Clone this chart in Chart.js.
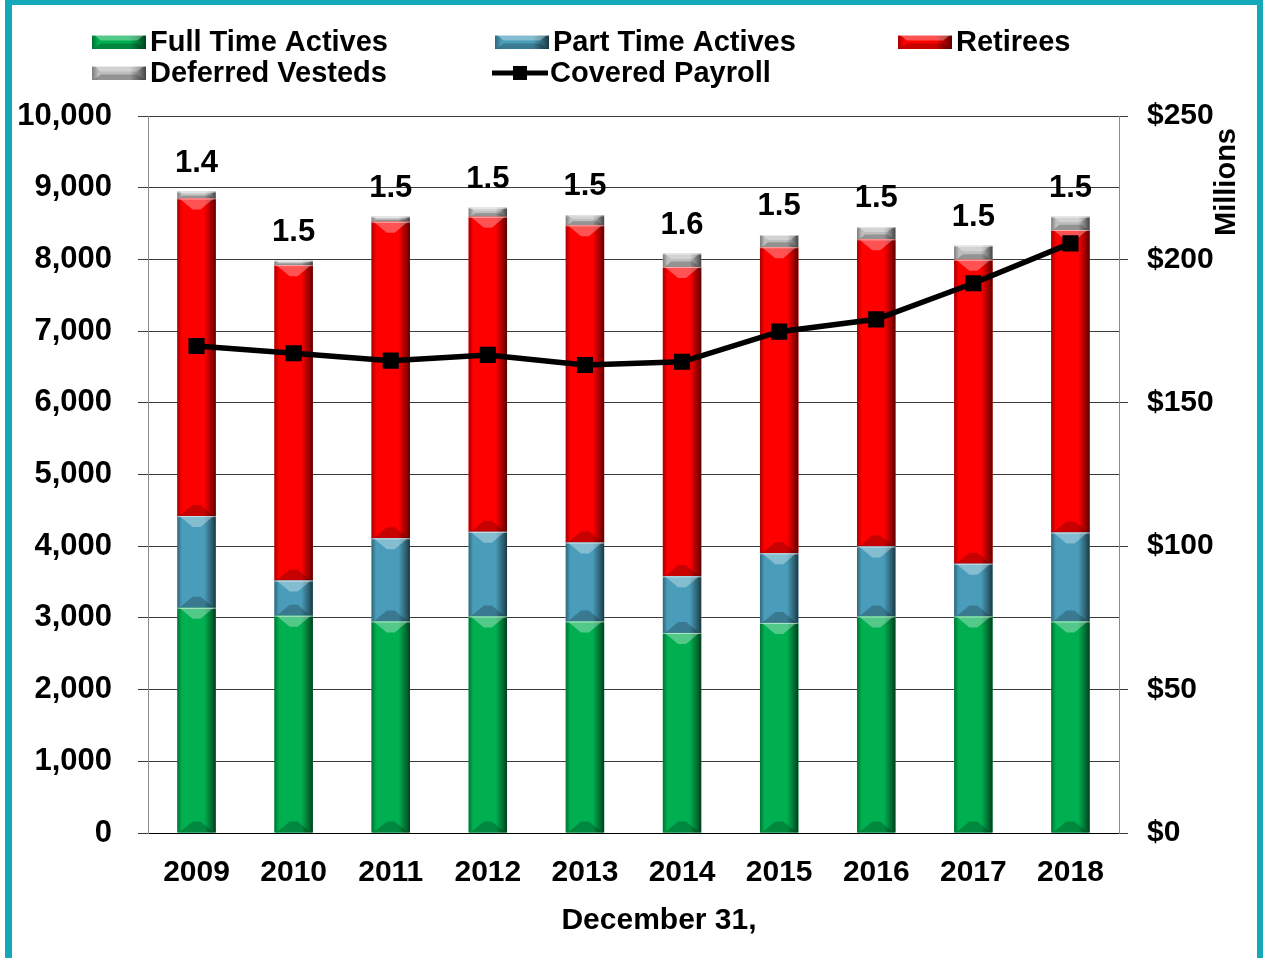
<!DOCTYPE html>
<html>
<head>
<meta charset="utf-8">
<script src="https://cdn.jsdelivr.net/npm/chart.js@4.4.1/dist/chart.umd.min.js"></script>
<style>
  html, body { margin: 0; padding: 0; background: #fff; }
  canvas { display: block; }
</style>
</head>
<body>
<canvas id="c" width="1263" height="958"></canvas>
<script>
// ---- data ----
const categories = ['2009', '2010', '2011', '2012', '2013', '2014', '2015', '2016', '2017', '2018'];
const fullTimeActives = [3140, 3030, 2950, 3020, 2950, 2790, 2930, 3020, 3020, 2950];
const partTimeActives = [1280, 490, 1160, 1180, 1100, 790, 970, 975, 735, 1240];
const retirees = [4430, 4400, 4415, 4395, 4425, 4315, 4270, 4285, 4240, 4220];
const deferredVesteds = [95, 60, 70, 125, 140, 185, 170, 170, 195, 185];
const coveredPayroll = [169.8, 167.3, 164.7, 166.7, 163.2, 164.3, 174.8, 179.1, 191.7, 205.6];
const ratioLabels = ['1.4', '1.5', '1.5', '1.5', '1.5', '1.6', '1.5', '1.5', '1.5', '1.5'];
const leftTicks = [0, 1000, 2000, 3000, 4000, 5000, 6000, 7000, 8000, 9000, 10000];
const rightTicks = [0, 50, 100, 150, 200, 250];
const xTitle = 'December 31,';
const rightTitle = 'Millions';

const FONT = '"Liberation Sans", Arial, sans-serif';
const TEAL = '#12A9B9';

function shade(hex, f) {
  const n = parseInt(hex.slice(1), 16);
  let r = (n >> 16) & 255, g = (n >> 8) & 255, b = n & 255;
  if (f < 0) { r *= (1 + f); g *= (1 + f); b *= (1 + f); }
  else { r += (255 - r) * f; g += (255 - g) * f; b += (255 - b) * f; }
  return 'rgb(' + Math.round(r) + ',' + Math.round(g) + ',' + Math.round(b) + ')';
}

// bevel drawing for a bar rectangle
function bevel(ctx, left, top, w, h, color) {
  ctx.save();
  const g = ctx.createLinearGradient(left, 0, left + w, 0);
  g.addColorStop(0, shade(color, -0.35));
  g.addColorStop(0.12, color);
  g.addColorStop(0.7, color);
  g.addColorStop(0.9, shade(color, -0.4));
  g.addColorStop(1, shade(color, -0.65));
  ctx.fillStyle = g;
  ctx.fillRect(left, top, w, h);
  const ch = Math.min(11, h / 2.5);
  if (ch > 1) {
    ctx.beginPath();
    ctx.moveTo(left + 2, top);
    ctx.lineTo(left + w - 2, top);
    ctx.lineTo(left + w - 2 - ch * 1.2, top + ch);
    ctx.lineTo(left + 2 + ch * 1.2, top + ch);
    ctx.closePath();
    ctx.fillStyle = 'rgba(255,255,255,0.32)';
    ctx.fill();
    ctx.beginPath();
    ctx.moveTo(left + 2, top + h);
    ctx.lineTo(left + w - 2, top + h);
    ctx.lineTo(left + w - 2 - ch * 1.2, top + h - ch);
    ctx.lineTo(left + 2 + ch * 1.2, top + h - ch);
    ctx.closePath();
    ctx.fillStyle = 'rgba(0,0,0,0.22)';
    ctx.fill();
  }
  ctx.fillStyle = 'rgba(255,255,255,0.55)';
  ctx.fillRect(left, top, w, 1);
  ctx.restore();
}

const framePlugin = {
  id: 'frame',
  beforeDraw(chart) {
    const ctx = chart.ctx;
    ctx.save();
    ctx.fillStyle = '#fff';
    ctx.fillRect(0, 0, chart.width, chart.height);
    ctx.fillStyle = TEAL;
    ctx.fillRect(5, 0, 7, 958);
    ctx.fillRect(5, 0, 1258, 5);
    ctx.fillRect(1257, 0, 6, 958);
    ctx.restore();
  }
};

const bevelPlugin = {
  id: 'bevel',
  afterDatasetDraw(chart, args) {
    const ds = chart.data.datasets[args.index];
    if (ds.type === 'line') return;
    const ctx = chart.ctx;
    args.meta.data.forEach(el => {
      const w = el.width;
      const top = Math.min(el.y, el.base);
      const h = Math.abs(el.base - el.y);
      bevel(ctx, el.x - w / 2, top, w, h, ds.backgroundColor);
    });
  }
};

const labelPlugin = {
  id: 'ratioLabels',
  afterDatasetsDraw(chart) {
    const ctx = chart.ctx;
    const meta = chart.getDatasetMeta(4);
    ctx.save();
    ctx.font = 'bold 31px ' + FONT;
    ctx.fillStyle = '#000';
    ctx.textAlign = 'center';
    ctx.textBaseline = 'alphabetic';
    meta.data.forEach((el, i) => {
      ctx.fillText(ratioLabels[i], el.x, el.y - 20);
    });
    ctx.restore();
  }
};

const legendPlugin = {
  id: 'customLegend',
  afterDraw(chart) {
    const ctx = chart.ctx;
    const items = [
      { ds: 1, x: 92, y: 42 },
      { ds: 2, x: 495, y: 42 },
      { ds: 3, x: 898, y: 42 },
      { ds: 4, x: 92, y: 73 },
      { ds: 0, x: 492, y: 73 }
    ];
    ctx.save();
    ctx.font = 'bold 29px ' + FONT;
    ctx.textBaseline = 'middle';
    ctx.textAlign = 'left';
    items.forEach(it => {
      const ds = chart.data.datasets[it.ds];
      if (ds.type === 'line') {
        ctx.fillStyle = '#000';
        ctx.fillRect(it.x, it.y - 2.5, 56, 5);
        ctx.fillRect(it.x + 21, it.y - 7, 14, 14);
      } else {
        bevel(ctx, it.x, it.y - 7, 54, 14, ds.backgroundColor);
      }
      ctx.fillStyle = '#000';
      ctx.fillText(ds.label, it.x + 58, it.y + 1);
    });
    ctx.restore();
  }
};

const titlesPlugin = {
  id: 'titles',
  afterDraw(chart) {
    const ctx = chart.ctx;
    ctx.save();
    ctx.font = 'bold 30px ' + FONT;
    ctx.fillStyle = '#000';
    ctx.textAlign = 'center';
    ctx.textBaseline = 'middle';
    ctx.fillText(xTitle, 659, 921);
    ctx.translate(1227, 182);
    ctx.rotate(-Math.PI / 2);
    ctx.font = 'bold 29px ' + FONT;
    ctx.fillText(rightTitle, 0, 0);
    ctx.restore();
  }
};

new Chart(document.getElementById('c'), {
  data: {
    labels: categories,
    datasets: [
      { type: 'line', label: 'Covered Payroll', data: coveredPayroll, yAxisID: 'y1', order: 0,
        borderColor: '#000', backgroundColor: '#000', borderWidth: 5.5, tension: 0,
        pointStyle: 'rect', pointRadius: 7.5, pointBackgroundColor: '#000', pointBorderColor: '#000' },
      { type: 'bar', label: 'Full Time Actives', data: fullTimeActives, backgroundColor: '#00B050', yAxisID: 'y', stack: 's', order: 1 },
      { type: 'bar', label: 'Part Time Actives', data: partTimeActives, backgroundColor: '#4A9DBA', yAxisID: 'y', stack: 's', order: 1 },
      { type: 'bar', label: 'Retirees', data: retirees, backgroundColor: '#FF0000', yAxisID: 'y', stack: 's', order: 1 },
      { type: 'bar', label: 'Deferred Vesteds', data: deferredVesteds, backgroundColor: '#BDBDBD', yAxisID: 'y', stack: 's', order: 1 }
    ]
  },
  options: {
    responsive: false,
    animation: false,
    devicePixelRatio: 1,
    layout: { padding: { top: 116, left: 0, right: 0, bottom: 0 } },
    datasets: { bar: { barPercentage: 0.395, categoryPercentage: 1 } },
    plugins: { legend: { display: false }, tooltip: { enabled: false } },
    scales: {
      x: {
        stacked: true,
        grid: { display: false, drawTicks: false },
        border: { display: true, color: '#000', width: 1 },
        ticks: { color: '#000', font: { family: FONT, weight: 'bold', size: 30 }, padding: 22, maxRotation: 0 },
        title: { display: false },
        afterFit(s) { s.height = 125; }
      },
      y: {
        stacked: true, position: 'left', min: 0, max: 10000,
        afterBuildTicks(s) { s.ticks = leftTicks.map(v => ({ value: v })); },
        grid: { color: '#3a3a3a', lineWidth: 1, drawTicks: true, tickLength: 10 },
        border: { display: true, color: '#8a8a8a', width: 1 },
        ticks: { color: '#000', font: { family: FONT, weight: 'bold', size: 31 }, padding: 26,
                 callback: v => v.toLocaleString('en-US') },
        afterFit(s) { s.width = 148; }
      },
      y1: {
        position: 'right', min: 0, max: 250,
        afterBuildTicks(s) { s.ticks = rightTicks.map(v => ({ value: v })); },
        grid: { drawOnChartArea: false, color: '#3a3a3a', drawTicks: true, tickLength: 9 },
        border: { display: true, color: '#8a8a8a', width: 1 },
        ticks: { color: '#000', font: { family: FONT, weight: 'bold', size: 30 }, padding: 19,
                 callback: v => '$' + v },
        afterFit(s) { s.width = 144; }
      }
    }
  },
  plugins: [framePlugin, bevelPlugin, labelPlugin, legendPlugin, titlesPlugin]
});
</script>
</body>
</html>
